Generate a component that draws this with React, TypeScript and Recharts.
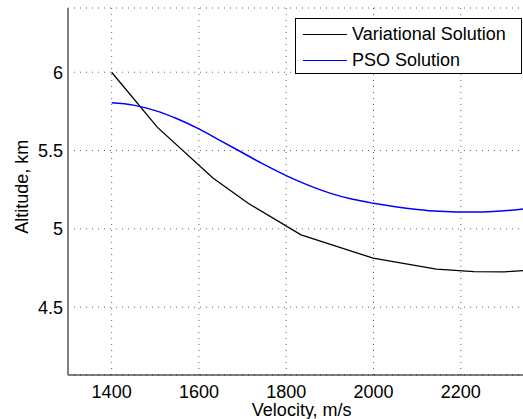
import { LineChart, Line, XAxis, YAxis, CartesianGrid } from "recharts";

// velocity (m/s) vs altitude (km)
const variationalVelocity = [1400, 1505, 1632, 1712, 1834, 1999, 2144, 2230, 2300, 2370];
const variationalAltitude = [6.0, 5.648, 5.325, 5.165, 4.962, 4.813, 4.743, 4.727, 4.726, 4.738];

const psoVelocity = [1400, 1450, 1500, 1550, 1600, 1650, 1700, 1750, 1800, 1850, 1900, 1950, 2000, 2050, 2100, 2150, 2200, 2250, 2300, 2350, 2370];
const psoAltitude = [5.805, 5.79, 5.755, 5.703, 5.638, 5.562, 5.486, 5.41, 5.34, 5.279, 5.228, 5.19, 5.163, 5.141, 5.124, 5.112, 5.107, 5.108, 5.115, 5.13, 5.137];

const xTicks = [1400, 1600, 1800, 2000, 2200];
const yTicks = [4.5, 5, 5.5, 6];

const variationalData = variationalVelocity.map((v, i) => ({ v, h: variationalAltitude[i] }));
const psoData = psoVelocity.map((v, i) => ({ v, h: psoAltitude[i] }));

const series = [
  { name: "Variational Solution", color: "#000000", data: variationalData, width: 1.3, curve: "linear" as const },
  { name: "PSO Solution", color: "#0000ff", data: psoData, width: 1.5, curve: "monotone" as const },
];

const font = "'Liberation Sans', Arial, sans-serif";

export default function App() {
  return (
    <div
      style={{
        position: "fixed",
        left: 0,
        top: 0,
        width: 523,
        height: 419,
        overflow: "hidden",
        background: "#fff",
        fontFamily: font,
      }}
    >
      <LineChart width={540} height={430} margin={{ top: 8, right: 5, left: 0, bottom: 0 }}>
        <CartesianGrid stroke="#666" strokeDasharray="1 5" strokeWidth={1} />
        <XAxis
          type="number"
          dataKey="v"
          domain={[1300, 2370]}
          ticks={xTicks}
          allowDataOverflow
          height={55}
          tickLine={false}
          tickSize={0}
          tickMargin={10}
          axisLine={{ stroke: "#000", strokeWidth: 1 }}
          tick={{ fill: "#000", fontSize: 18, fontFamily: font }}
          label={{
            content: () => (
              <text x={301.7} y={416} textAnchor="middle" fontSize={18} fontFamily={font} fill="#000">
                Velocity, m/s
              </text>
            ),
          }}
        />
        <YAxis
          type="number"
          dataKey="h"
          domain={[4.067, 6.41]}
          ticks={yTicks}
          allowDataOverflow
          width={68}
          tickLine={false}
          tickSize={0}
          tickMargin={5}
          axisLine={{ stroke: "#808080", strokeWidth: 2 }}
          tick={{ fill: "#000", fontSize: 18, fontFamily: font }}
          label={{
            content: () => (
              <text
                x={0}
                y={0}
                transform="translate(28 186.7) rotate(-90)"
                textAnchor="middle"
                fontSize={18}
                fontFamily={font}
                fill="#000"
              >
                Altitude, km
              </text>
            ),
          }}
        />
        {series.map((s) => (
          <Line
            key={s.name}
            data={s.data}
            dataKey="h"
            name={s.name}
            type={s.curve}
            stroke={s.color}
            strokeWidth={s.width}
            dot={false}
            activeDot={false}
            isAnimationActive={false}
          />
        ))}
      </LineChart>
      <div
        style={{
          position: "absolute",
          left: 295,
          top: 18,
          width: 225,
          height: 54,
          border: "1px solid #000",
          background: "#fff",
          boxSizing: "content-box",
        }}
      >
        {series.map((s, i) => (
          <div
            key={s.name}
            style={{
              position: "absolute",
              left: 7,
              top: 5 + i * 25.7,
              height: 21,
              display: "flex",
              alignItems: "center",
              fontSize: 18,
              color: "#000",
              whiteSpace: "nowrap",
            }}
          >
            <span style={{ display: "inline-block", width: 44, height: 0, borderTop: `1.5px solid ${s.color}`, marginRight: 5 }} />
            {s.name}
          </div>
        ))}
      </div>
    </div>
  );
}
